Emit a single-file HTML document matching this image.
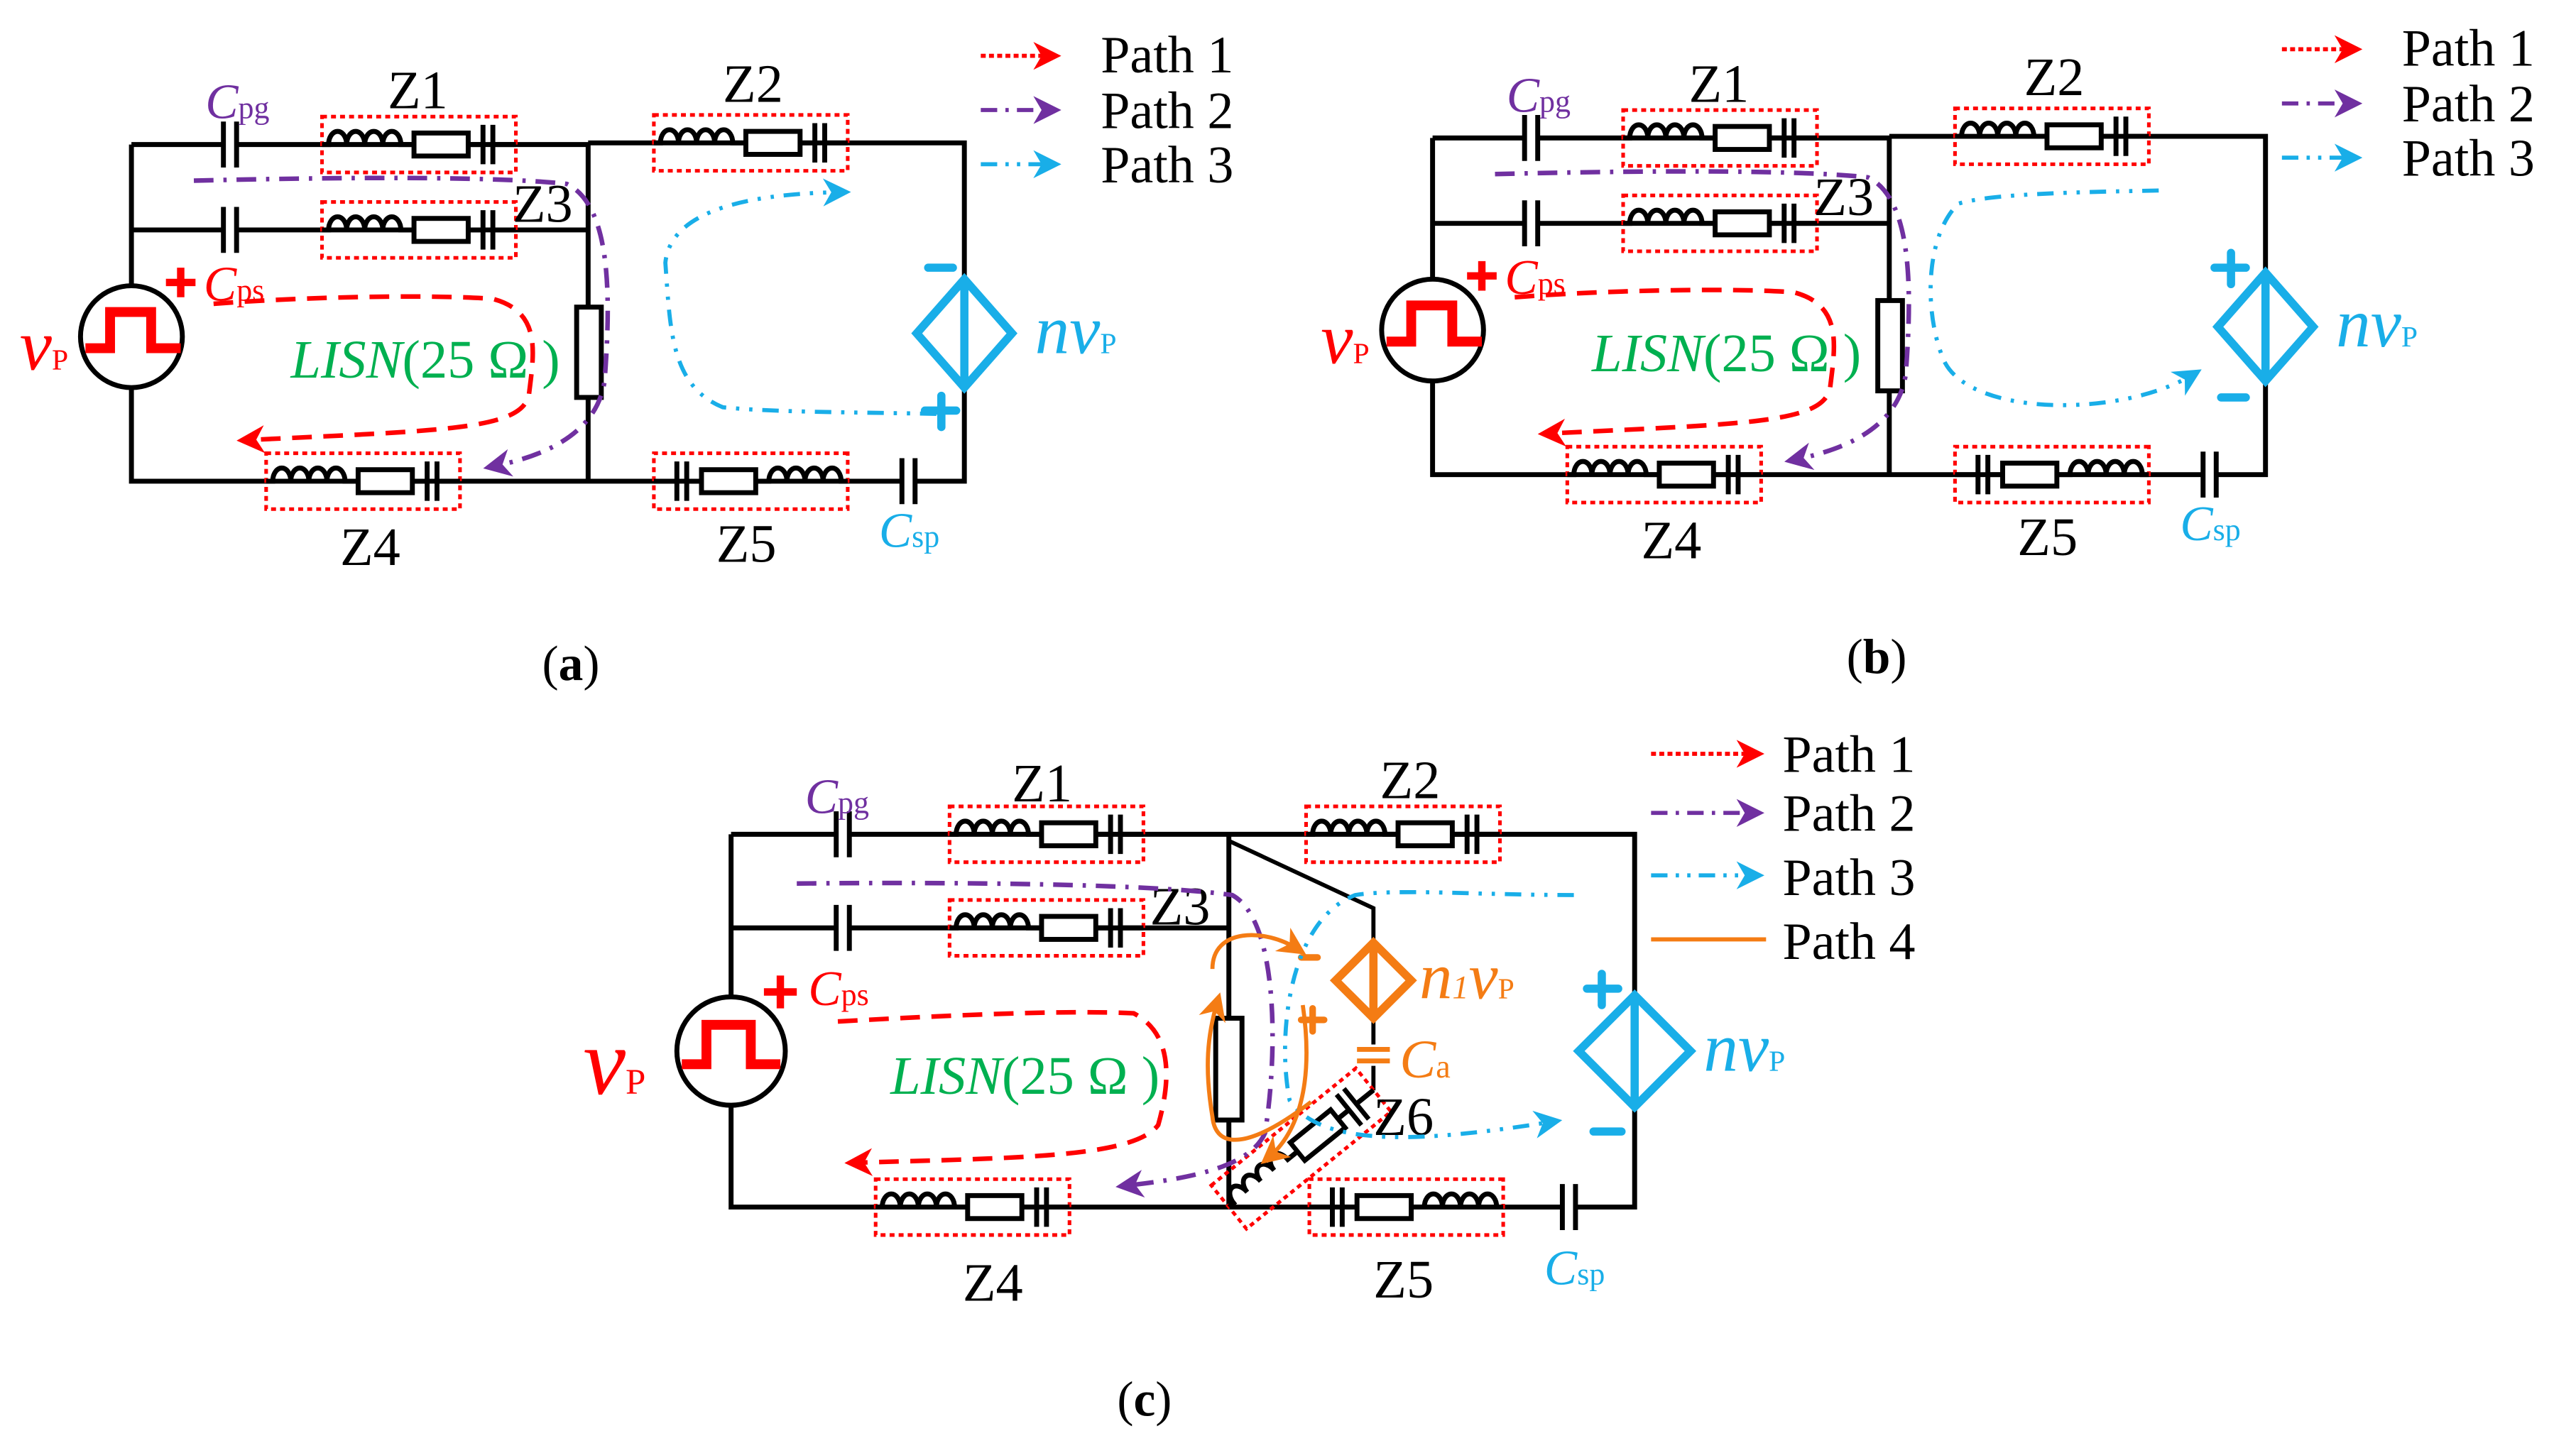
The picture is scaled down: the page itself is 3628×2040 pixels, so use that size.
<!DOCTYPE html>
<html><head><meta charset="utf-8"><style>
html,body{margin:0;padding:0;background:#fff;width:3628px;height:2040px;overflow:hidden}
svg{display:block}
</style></head><body>
<svg width="3628" height="2040" viewBox="0 0 1568 881.7" preserveAspectRatio="none" xmlns="http://www.w3.org/2000/svg" font-family="'Liberation Serif', serif">
<defs>
<marker id="mr" markerWidth="17" markerHeight="17" refX="11" refY="8.5" orient="auto" markerUnits="userSpaceOnUse" viewBox="0 0 17 17"><path d="M0,0 L17,8.5 L0,17 L5,8.5Z" fill="#f00"/></marker>
<marker id="mp" markerWidth="17" markerHeight="17" refX="11" refY="8.5" orient="auto" markerUnits="userSpaceOnUse" viewBox="0 0 17 17"><path d="M0,0 L17,8.5 L0,17 L5,8.5Z" fill="#7030a0"/></marker>
<marker id="mb" markerWidth="17" markerHeight="17" refX="11" refY="8.5" orient="auto" markerUnits="userSpaceOnUse" viewBox="0 0 17 17"><path d="M0,0 L17,8.5 L0,17 L5,8.5Z" fill="#19aee8"/></marker>
<marker id="mo" markerWidth="17" markerHeight="17" refX="11" refY="8.5" orient="auto" markerUnits="userSpaceOnUse" viewBox="0 0 17 17"><path d="M0,0 L17,8.5 L0,17 L5,8.5Z" fill="#f47c14"/></marker>
<g id="zb">
<rect x="0" y="0" width="118" height="34" fill="none" stroke="#f00" stroke-width="2.2" stroke-dasharray="3,2.5"/>
<path d="M0,17 H4 a5.5,8 0 0 1 11,0 a5.5,8 0 0 1 11,0 a5.5,8 0 0 1 11,0 a5.5,8 0 0 1 11,0 H56 M89,17 H98 M104,17 H118" fill="none" stroke="#000" stroke-width="3"/>
<rect x="56" y="10" width="33" height="14" fill="#fff" stroke="#000" stroke-width="3"/>
<path d="M98,5 V29 M104,5 V29" stroke="#000" stroke-width="3"/>
</g>
<g id="cap"><rect x="-3" y="-14" width="6" height="28" fill="#fff"/><path d="M-4,-14 V14 M4,-14 V14" stroke="#000" stroke-width="3"/></g>
<g id="base">
<path d="M80,88 H358 M80,140 H358 M358,87 V293 M358,87 H587 V170 M587,236 V293 H80 V88" fill="none" stroke="#000" stroke-width="3"/>
<use href="#zb" x="196" y="71"/>
<use href="#zb" x="196" y="123"/>
<use href="#zb" x="398" y="70"/>
<use href="#zb" x="162" y="276"/>
<use href="#zb" transform="translate(516,276) scale(-1,1)"/>
<use href="#cap" x="140" y="88"/>
<use href="#cap" x="140" y="140"/>
<use href="#cap" x="553" y="293"/>
<circle cx="80" cy="205" r="31" fill="#fff" stroke="#000" stroke-width="3"/>
<path d="M52,212 H67 V190 H92 V212 H110" fill="none" stroke="#f00" stroke-width="6"/>
<path d="M101,172 H119 M110,163 V181" stroke="#f00" stroke-width="4.5"/>
<rect x="351" y="187" width="15" height="55" fill="#fff" stroke="#000" stroke-width="3"/>
<path d="M587,170 L616,203 L587,236 L558,203Z M587,170 V236" fill="none" stroke="#19aee8" stroke-width="5"/>
<text x="125" y="72" font-size="30" font-style="italic" fill="#7030a0">C<tspan font-size="19" font-style="normal">pg</tspan></text>
<text x="236" y="66" font-size="33">Z1</text>
<text x="440" y="62" font-size="33">Z2</text>
<text x="312" y="135" font-size="33">Z3</text>
<text x="124" y="183" font-size="30" font-style="italic" fill="#f00">C<tspan font-size="19" font-style="normal">ps</tspan></text>
<text x="12" y="225" font-size="44" font-style="italic" fill="#f00">v<tspan font-size="18" font-style="normal">P</tspan></text>
<text x="177" y="230" font-size="33" fill="#00b050"><tspan font-style="italic">LISN</tspan>(25 Ω )</text>
<text x="630" y="215" font-size="42" font-style="italic" fill="#19aee8">nv<tspan font-size="18" font-style="normal">P</tspan></text>
<text x="207" y="344" font-size="33">Z4</text>
<text x="436" y="342" font-size="33">Z5</text>
<text x="535" y="333" font-size="30" font-style="italic" fill="#19aee8">C<tspan font-size="19" font-style="normal">sp</tspan></text>
<path d="M597,34 H640" stroke="#f00" stroke-width="2.5" stroke-dasharray="3,2" marker-end="url(#mr)"/>
<path d="M597,67 H640" stroke="#7030a0" stroke-width="2.5" stroke-dasharray="10,5,2,5" marker-end="url(#mp)"/>
<path d="M597,100 H640" stroke="#19aee8" stroke-width="2.5" stroke-dasharray="10,5,2,5,2,5" marker-end="url(#mb)"/>
<text x="670" y="44" font-size="32">Path 1</text>
<text x="670" y="78" font-size="32">Path 2</text>
<text x="670" y="111" font-size="32">Path 3</text>
<path d="M130,185 C180,181 260,179 300,182 C330,190 325,215 322,240 C318,262 270,262 150,268" fill="none" stroke="#f00" stroke-width="2.8" stroke-dasharray="12,7" marker-end="url(#mr)"/>
<path d="M118,110 C200,108 300,107 345,112 C372,125 372,180 368,232 C363,265 330,278 300,284" fill="none" stroke="#7030a0" stroke-width="2.8" stroke-dasharray="12,6,2,6" marker-end="url(#mp)"/>
</g>
</defs>

<use href="#base"/>
<path d="M570,252 C520,251 470,251 440,248 C408,235 408,200 405,160 C408,130 450,118 512,117" fill="none" stroke="#19aee8" stroke-width="2.5" stroke-dasharray="10,6,2,6,2,6" marker-end="url(#mb)"/>
<path d="M565,163 H580" stroke="#19aee8" stroke-width="5" stroke-linecap="round"/>
<path d="M563,250 H582 M573,241 V260" stroke="#19aee8" stroke-width="5" stroke-linecap="round"/>
<text x="330" y="414" font-size="30">(<tspan font-weight="bold">a</tspan>)</text>

<g transform="translate(792,-4)">
<use href="#base"/>
<path d="M522,120 C470,121 420,122 400,128 C378,150 380,200 392,225 C410,258 500,258 543,232" fill="none" stroke="#19aee8" stroke-width="2.5" stroke-dasharray="10,6,2,6,2,6" marker-end="url(#mb)"/>
<path d="M556,167 H575 M566,158 V177" stroke="#19aee8" stroke-width="5" stroke-linecap="round"/>
<path d="M560,246 H575" stroke="#19aee8" stroke-width="5" stroke-linecap="round"/>
</g>
<text x="1124" y="410" font-size="30">(<tspan font-weight="bold">b</tspan>)</text>

<!-- panel c -->
<path d="M445,508 H748 M445,565 H748 M748,508 V735 M748,508 H995 V606 M995,674 V735 H445 V508" fill="none" stroke="#000" stroke-width="3"/>
<path d="M748,512 L836,553 V574 M836,620 V664" fill="none" stroke="#000" stroke-width="2.5"/>
<rect x="828" y="636" width="16" height="13" fill="#fff"/>
<path d="M826,639 H846 M826,646 H846" stroke="#f47c14" stroke-width="3"/>
<use href="#zb" x="578" y="491"/>
<use href="#zb" x="578" y="548"/>
<use href="#zb" x="795" y="491"/>
<use href="#zb" x="533" y="718"/>
<use href="#zb" transform="translate(915,718) scale(-1,1)"/>
<use href="#zb" transform="translate(748,735) rotate(-39) translate(0,-17) scale(0.96,1)"/>
<use href="#cap" x="513" y="508"/>
<use href="#cap" x="513" y="565"/>
<use href="#cap" x="955" y="735"/>
<circle cx="445" cy="640" r="33" fill="#fff" stroke="#000" stroke-width="3"/>
<path d="M415,648 H430 V624 H457 V648 H475" fill="none" stroke="#f00" stroke-width="6"/>
<path d="M465,604 H485 M475,594 V614" stroke="#f00" stroke-width="4.5"/>
<rect x="740" y="620" width="16" height="62" fill="#fff" stroke="#000" stroke-width="3"/>
<path d="M836,574 L859,597 L836,620 L813,597Z M836,574 V620" fill="none" stroke="#f47c14" stroke-width="5"/>
<path d="M995,606 L1029,640 L995,674 L961,640Z M995,606 V674" fill="none" stroke="#19aee8" stroke-width="5"/>
<path d="M966,602 H985 M975,593 V612" stroke="#19aee8" stroke-width="5" stroke-linecap="round"/>
<path d="M970,689 H987" stroke="#19aee8" stroke-width="5" stroke-linecap="round"/>
<path d="M792,583 H802 M792,621 H806 M799,614 V628" stroke="#f47c14" stroke-width="4" stroke-linecap="round"/>
<text x="490" y="495" font-size="30" font-style="italic" fill="#7030a0">C<tspan font-size="19" font-style="normal">pg</tspan></text>
<text x="616" y="488" font-size="33">Z1</text>
<text x="840" y="486" font-size="33">Z2</text>
<text x="700" y="563" font-size="33">Z3</text>
<text x="492" y="612" font-size="30" font-style="italic" fill="#f00">C<tspan font-size="19" font-style="normal">ps</tspan></text>
<text x="355" y="666" font-size="58" font-style="italic" fill="#f00">v<tspan font-size="22" font-style="normal">P</tspan></text>
<text x="542" y="666" font-size="33" fill="#00b050"><tspan font-style="italic">LISN</tspan>(25 Ω )</text>
<text x="864" y="608" font-size="40" font-style="italic" fill="#f47c14">n<tspan font-size="20">1</tspan>v<tspan font-size="18" font-style="normal">P</tspan></text>
<text x="852" y="656" font-size="33" font-style="italic" fill="#f47c14">C<tspan font-size="20" font-style="normal">a</tspan></text>
<text x="836" y="691" font-size="33">Z6</text>
<text x="1037" y="652" font-size="42" font-style="italic" fill="#19aee8">nv<tspan font-size="18" font-style="normal">P</tspan></text>
<text x="586" y="792" font-size="33">Z4</text>
<text x="836" y="790" font-size="33">Z5</text>
<text x="940" y="782" font-size="30" font-style="italic" fill="#19aee8">C<tspan font-size="19" font-style="normal">sp</tspan></text>
<text x="680" y="862" font-size="30">(<tspan font-weight="bold">c</tspan>)</text>
<path d="M1005,459 H1068" stroke="#f00" stroke-width="2.5" stroke-dasharray="3,2" marker-end="url(#mr)"/>
<path d="M1005,495 H1068" stroke="#7030a0" stroke-width="2.5" stroke-dasharray="10,5,2,5" marker-end="url(#mp)"/>
<path d="M1005,533 H1068" stroke="#19aee8" stroke-width="2.5" stroke-dasharray="10,5,2,5,2,5" marker-end="url(#mb)"/>
<path d="M1005,572 H1075" stroke="#f47c14" stroke-width="2.5"/>
<text x="1085" y="470" font-size="32">Path 1</text>
<text x="1085" y="506" font-size="32">Path 2</text>
<text x="1085" y="545" font-size="32">Path 3</text>
<text x="1085" y="584" font-size="32">Path 4</text>
<path d="M510,622 C580,618 650,615 690,617 C715,630 712,660 705,685 C690,705 620,705 520,708" fill="none" stroke="#f00" stroke-width="2.8" stroke-dasharray="12,7" marker-end="url(#mr)"/>
<path d="M485,538 C580,537 700,538 750,545 C778,560 778,640 770,690 C760,712 720,718 685,722" fill="none" stroke="#7030a0" stroke-width="2.8" stroke-dasharray="12,6,2,6" marker-end="url(#mp)"/>
<path d="M958,545 C900,545 850,541 825,545 C785,560 777,630 785,670 C805,700 870,695 945,683" fill="none" stroke="#19aee8" stroke-width="2.5" stroke-dasharray="10,6,2,6,2,6" marker-end="url(#mb)"/>
<path d="M798,671 C760,700 740,700 738,680 C733,650 735,630 741,610" fill="none" stroke="#f47c14" stroke-width="2.5" marker-end="url(#mo)"/>
<path d="M738,590 C738,565 770,565 790,578" fill="none" stroke="#f47c14" stroke-width="2.5" marker-end="url(#mo)"/>
<path d="M793,612 C800,660 790,690 772,705" fill="none" stroke="#f47c14" stroke-width="2.5" marker-end="url(#mo)"/>
</svg>
</body></html>
